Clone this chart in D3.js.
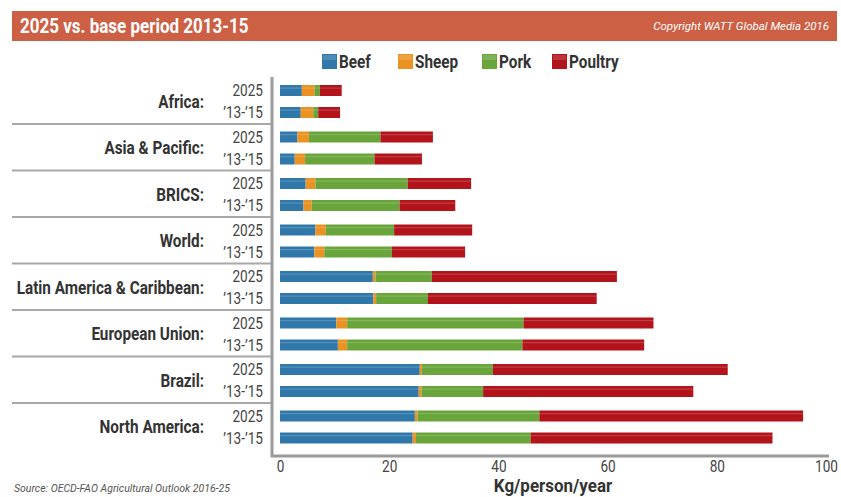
<!DOCTYPE html>
<html>
<head>
<meta charset="utf-8">
<script src="https://cdn.jsdelivr.net/npm/d3@7"></script>
<style>
  html, body { margin: 0; padding: 0; background: #fff; }
  svg { display: block; }
  text { font-family: Roboto, "Liberation Sans", "DejaVu Sans", sans-serif; }
</style>
</head>
<body>
<svg id="chart" width="841" height="497"></svg>
<script>
// Regions, top to bottom
const regions = ["Africa", "Asia & Pacific", "BRICS", "World", "Latin America & Caribbean",
                 "European Union", "Brazil", "North America"];
const periods = ["2025", "’13-’15"];
const meats = ["Beef", "Sheep", "Pork", "Poultry"];
const meatColors = ["#2f78a9", "#ea9222", "#6aa53c", "#b3131a"];
const xTicks = [0, 20, 40, 60, 80, 100];

// Per-capita consumption, kg/person/year, one entry per region: [2025, 2013-15]
const beef = [[4.0, 3.8], [3.2, 2.7], [4.7, 4.3], [6.5, 6.3], [17.0, 17.1], [10.3, 10.6], [25.6, 25.4], [24.7, 24.3]];
const sheep = [[2.3, 2.3], [2.1, 1.9], [1.8, 1.5], [1.9, 1.8], [0.5, 0.5], [2.0, 1.7], [0.4, 0.5], [0.5, 0.6]];
const pork = [[1.0, 0.9], [13.1, 12.7], [16.9, 16.1], [12.5, 12.4], [10.3, 9.5], [32.3, 32.1], [13.0, 11.3], [22.3, 21.0]];
const poultry = [[4.0, 4.0], [9.6, 8.7], [11.6, 10.2], [14.3, 13.4], [33.9, 30.9], [23.8, 22.3], [43.0, 38.5], [48.3, 44.3]];

const NARROW = 0.85; // horizontal squeeze for the condensed lettering

const svg = d3.select("#chart");

// Condensed text helper: places text at (x, y) squeezed horizontally
function label(parent, x, y, txt, o = {}) {
  return parent.append("text")
    .attr("transform", `translate(${x},${y}) scale(${o.sx || NARROW},1)`)
    .attr("text-anchor", o.anchor || "start")
    .attr("font-size", o.size || 15)
    .attr("font-weight", o.weight || "normal")
    .attr("font-style", o.style || "normal")
    .attr("fill", o.fill || "#333")
    .text(txt);
}

// Header band
svg.append("rect").attr("x", 12).attr("y", 11).attr("width", 825).attr("height", 30)
  .attr("fill", "#cd5f45");
label(svg, 20, 33, "2025 vs. base period 2013-15", { size: 20, weight: "bold", fill: "#fff" });
label(svg, 829, 30, "Copyright WATT Global Media 2016", { size: 11.5, style: "italic", fill: "#fff", anchor: "end", sx: 1 });

// Legend
const legendX = [322, 398, 482, 552];
meats.forEach((m, i) => {
  const g = svg.append("g").attr("transform", `translate(${legendX[i]},54)`);
  g.append("rect").attr("width", 15).attr("height", 15).attr("fill", meatColors[i]);
  g.append("rect").attr("x", 1).attr("y", 1).attr("width", 13).attr("height", 5)
    .attr("fill", "#fff").attr("opacity", 0.15);
  label(g, 17, 13.5, m, { size: 18, weight: "bold" });
});

// Scales
const x = d3.scaleLinear().domain([0, 100]).range([280, 826]);
const yGroup = d3.scaleBand().domain(regions).range([77.5, 449.5]);
const yPeriod = d3.scaleBand().domain(periods).range([2, 46]).paddingInner(0.5).paddingOuter(0.25);

// Stacked rows
const rows = [];
regions.forEach((r, ri) => {
  periods.forEach((p, pi) => {
    const vals = [beef[ri][pi], sheep[ri][pi], pork[ri][pi], poultry[ri][pi]];
    let acc = 0;
    vals.forEach((v, mi) => {
      rows.push({ region: r, period: p, meat: mi, x0: acc, x1: acc + v });
      acc += v;
    });
  });
});

const segs = svg.append("g").selectAll("g.seg").data(rows).join("g").attr("class", "seg")
  .attr("transform", d => `translate(0,${yGroup(d.region) + yPeriod(d.period)})`);
segs.append("rect")
  .attr("x", d => x(d.x0)).attr("width", d => x(d.x1) - x(d.x0))
  .attr("y", 0).attr("height", yPeriod.bandwidth())
  .attr("fill", d => meatColors[d.meat]);
segs.append("rect")
  .attr("x", d => x(d.x0)).attr("width", d => x(d.x1) - x(d.x0))
  .attr("y", 2.5).attr("height", 1.2)
  .attr("fill", "#fff").attr("opacity", 0.18);

// Group separators
svg.append("g").selectAll("line").data(regions.slice(1)).join("line")
  .attr("x1", 12).attr("x2", 271)
  .attr("y1", d => yGroup(d)).attr("y2", d => yGroup(d))
  .attr("stroke", "#a8a8a8").attr("stroke-width", 2);

// Region labels
const regionG = svg.append("g");
regions.forEach(r => {
  label(regionG, 204, yGroup(r) + yGroup.bandwidth() / 2 + 7, r + ":", { size: 18, weight: "bold", anchor: "end" });
});

// Period labels
const periodG = svg.append("g");
regions.forEach(r => periods.forEach(p => {
  label(periodG, 263, yGroup(r) + yPeriod(p) + yPeriod.bandwidth() / 2 + 5.5, p, { size: 16, anchor: "end", fill: "#444" });
}));

// Axis frame
svg.append("path")
  .attr("d", `M272,77V456H829`)
  .attr("fill", "none").attr("stroke", "#9a9a9a").attr("stroke-width", 3);

// X axis labels
const xAxis = d3.axisBottom(x).tickValues(xTicks).tickSize(0).tickPadding(0);
const axG = svg.append("g").attr("transform", "translate(0,460)").call(xAxis);
axG.select(".domain").remove();
axG.selectAll("text")
  .attr("font-family", null)
  .attr("font-size", 16).attr("fill", "#444").attr("dy", "0.75em")
  .attr("transform", `scale(${NARROW},1)`);

label(svg, 553, 492, "Kg/person/year", { size: 17.5, weight: "bold", anchor: "middle", sx: 0.97 });
label(svg, 14, 492, "Source: OECD-FAO Agricultural Outlook 2016-25", { size: 10.5, style: "italic", fill: "#555", sx: 1 });
</script>
</body>
</html>
